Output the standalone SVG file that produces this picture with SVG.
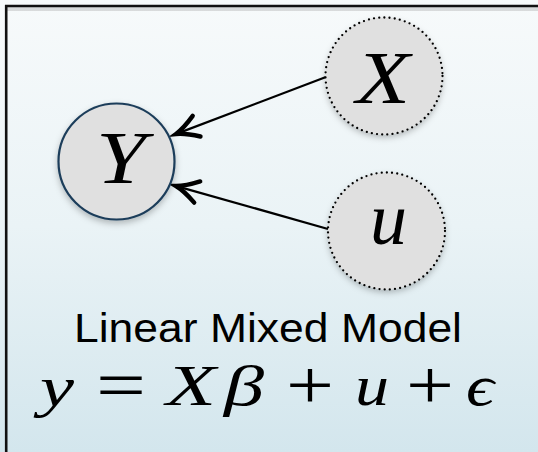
<svg xmlns="http://www.w3.org/2000/svg" width="538" height="452" viewBox="0 0 538 452">
<defs>
  <linearGradient id="bg" x1="0" y1="0" x2="0" y2="1">
    <stop offset="0" stop-color="#f7fafb"/>
    <stop offset="0.5" stop-color="#eaf3f6"/>
    <stop offset="1" stop-color="#d3e6ed"/>
  </linearGradient>
  <filter id="sh" x="-30%" y="-30%" width="160%" height="160%">
    <feDropShadow dx="0" dy="3" stdDeviation="3" flood-color="#000" flood-opacity="0.25"/>
  </filter>
  <style>
    .node { fill: #e0e0e0; }
    .obs { stroke: #1c3d5a; stroke-width: 2.2; }
    .lat { stroke: #000; stroke-width: 2.3; stroke-dasharray: 0 5.2; stroke-linecap: round; }
    .lbl { font-family: "Liberation Serif", "DejaVu Serif", serif; font-style: italic; fill: #000; font-size: 74px; }
    .edge { stroke: #000; stroke-width: 2.3; fill: none; }
    .head { stroke: #000; stroke-width: 4.4; fill: none; stroke-linecap: round; stroke-linejoin: miter; }
    .math { font-family: "Liberation Serif", "DejaVu Serif", serif; font-size: 58px; fill: #000; }
    .it { font-style: italic; }
    .op { font-size: 70px; }
  </style>
</defs>
<rect x="0" y="0" width="538" height="452" fill="url(#bg)"/>
<line x1="6" y1="9" x2="538" y2="9" stroke="#000" stroke-opacity="0.12" stroke-width="4"/>
<path d="M 6.2 460 L 6.2 6 L 540 6" fill="none" stroke="#111" stroke-width="2.6"/>

<g id="connectors">
  <line class="edge" x1="326" y1="77" x2="179" y2="132.9"/>
  <path class="head" d="M 192.7 115.9 Q 183.5 128.5 176 134 Q 185.3 133.1 200.5 136.5"/>
  <line class="edge" x1="328" y1="229" x2="179" y2="186.8"/>
  <path class="head" d="M 200.2 181.4 Q 185.4 186.0 176 186 Q 184.0 190.8 194.2 202.6"/>
</g>

<g id="node-Y">
  <circle class="node obs" cx="116.5" cy="161.5" r="58" filter="url(#sh)"/>
  <text class="lbl" x="96" y="183" textLength="50" lengthAdjust="spacingAndGlyphs">Y</text>
</g>
<g id="node-X">
  <circle class="node" cx="384" cy="76" r="58.5" filter="url(#sh)"/>
  <circle class="lat" cx="384" cy="76" r="58.5" fill="none"/>
  <text class="lbl" x="356" y="103" textLength="54" lengthAdjust="spacingAndGlyphs">X</text>
</g>
<g id="node-u">
  <circle class="node" cx="386.5" cy="231" r="58.5" filter="url(#sh)"/>
  <circle class="lat" cx="386.5" cy="231" r="58.5" fill="none"/>
  <text class="lbl" x="370" y="244" textLength="37" lengthAdjust="spacingAndGlyphs">u</text>
</g>

<text x="74" y="342" font-family="'Liberation Sans', Arial, sans-serif" font-size="41" fill="#000" textLength="388" lengthAdjust="spacingAndGlyphs">Linear Mixed Model</text>

<g id="equation">
  <text class="math it" x="40" y="406" font-size="62" textLength="34" lengthAdjust="spacingAndGlyphs">y</text>
  <text class="math op" x="96" y="409" textLength="50" lengthAdjust="spacingAndGlyphs">=</text>
  <text class="math it" x="166" y="405" textLength="50" lengthAdjust="spacingAndGlyphs">X</text>
  <text class="math it" x="224" y="405" textLength="40" lengthAdjust="spacingAndGlyphs">β</text>
  <text class="math op" x="286" y="409" textLength="48" lengthAdjust="spacingAndGlyphs">+</text>
  <text class="math it" x="355" y="405" textLength="34" lengthAdjust="spacingAndGlyphs">u</text>
  <text class="math op" x="406" y="409" textLength="48" lengthAdjust="spacingAndGlyphs">+</text>
  <text class="math it" x="466" y="405" textLength="28" lengthAdjust="spacingAndGlyphs">ϵ</text>
</g>
</svg>
